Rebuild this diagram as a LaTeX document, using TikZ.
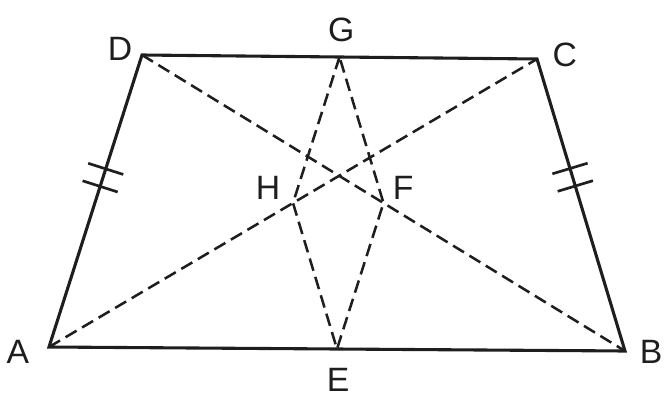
\documentclass[tikz,border=0pt]{standalone}
\usepackage{fontspec}
\setmainfont{Liberation Sans}
\usetikzlibrary{calc}
\definecolor{ink}{HTML}{1E1E1E}

\begin{document}
\begin{tikzpicture}[
  side/.style={draw=ink, line width=2.2pt, line join=miter},
  dashline/.style={draw=ink, line width=1.8pt, dash pattern=on 3.2mm off 1.6mm},
  tick/.style={draw=ink, line width=1.9pt},
  lbl/.style={font=\fontsize{24}{28}\selectfont, text=ink, inner sep=0pt},
]
\useasboundingbox (0,0) rectangle (16.625,9.95);

% Vertices of the trapezium
\coordinate (A) at (1.225,1.275);
\coordinate (B) at (15.625,1.175);
\coordinate (C) at (13.425,8.475);
\coordinate (D) at (3.55,8.575);

% Midpoints
\coordinate (G) at ($(D)!0.5!(C)$);
\coordinate (E) at ($(A)!0.5!(B)$);
\coordinate (H) at ($(A)!0.5!(C)$);
\coordinate (F) at ($(B)!0.5!(D)$);

% === Dashed lines ===
\draw[dashline] (A) -- (C);
\draw[dashline] (D) -- (B);
\draw[dashline] (G) -- (H) -- (E) -- (F) -- cycle;

% === Sides ===
\draw[side] (A) -- (B) -- (C) -- (D) -- cycle;

% === Equal-length ticks ===
\foreach \p/\q/\r in {A/D/0.55, A/D/0.61, B/C/0.565, B/C/0.625} {
  \coordinate (t) at ($(\p)!\r!(\q)$);
  \draw[tick] ($(t)!0.46cm!90:(\q)$) -- ($(t)!0.46cm!-90:(\q)$);
}

% Labels
\node[lbl] (lA) at (0.45,1.15) {A};
\node[lbl] (lB) at (16.28,1.15) {B};
\node[lbl] (lC) at (14.12,8.58) {C};
\node[lbl] (lD) at (3.0,8.72) {D};
\node[lbl] (lG) at (8.53,9.2) {G};
\node[lbl] (lE) at (8.45,0.45) {E};
\node[lbl] (lH) at (6.7,5.25) {H};
\node[lbl] (lF) at (10.08,5.25) {F};

\end{tikzpicture}
\end{document}
